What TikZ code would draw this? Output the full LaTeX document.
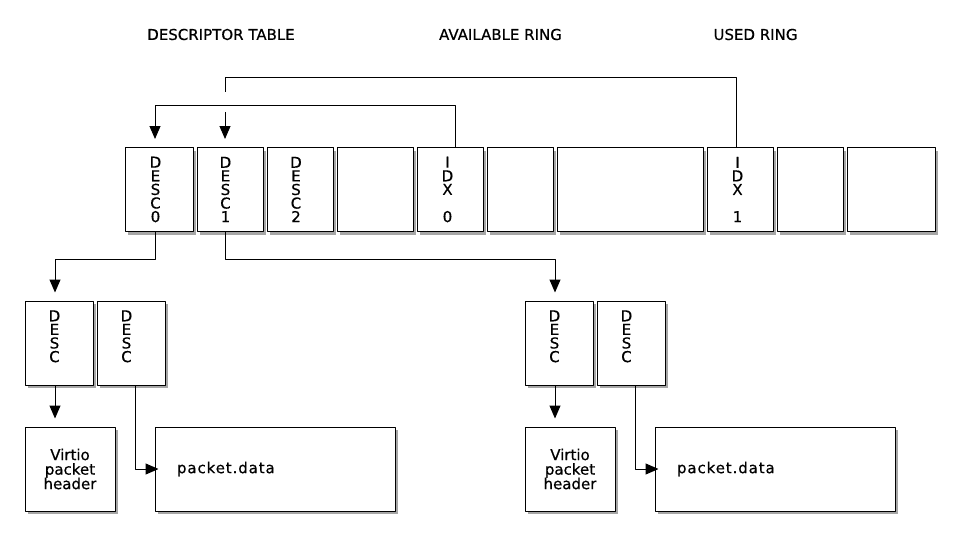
\documentclass[tikz,border=0pt]{standalone}
\usepackage{fontspec}
\setmainfont{DejaVu Sans}
\newfontfamily\ditaafont[FakeBold=0.5]{DejaVu Sans}
\usetikzlibrary{arrows.meta,shadows}

\newcommand\boxfont{\ditaafont\fontsize{15}{13.6}\selectfont\lineskiplimit-15pt\relax}
\newcommand\tightlines{\ditaafont\fontsize{15}{14.5}\selectfont\lineskiplimit-15pt\relax}
\newcommand\widefont{\ditaafont\fontsize{15}{13.6}\selectfont\addfontfeature{LetterSpace=6}}

\tikzset{
  cell/.style={draw, fill=white, line width=1pt, inner sep=0pt, minimum height=84pt, align=center,
    drop shadow={shadow xshift=3pt, shadow yshift=-3pt, fill=black, opacity=0.35}},
  letters/.style={align=center, inner sep=0pt, xshift=#1},
  tight/.style={font=\tightlines},
  datacell/.style={cell, font=\widefont, text width=196pt, inner xsep=22pt, align=left},
  link/.style={line width=1pt},
  arrdown/.style={link, ->, shorten >=8pt},
  arrin/.style={link, ->, shorten >=-4pt}
}

\begin{document}
\begin{tikzpicture}[line join=round, >={Triangle[length=13pt,width=11pt]}, x=1pt, y=-1pt,
    font=\boxfont]
  \useasboundingbox (0,0) rectangle (960,546);

  \node (hdesc)  at (221,34.5) {DESCRIPTOR TABLE};
  \node (havail) at (500.5,34.5) {AVAILABLE RING};
  \node (hused)  at (755.5,34.5) {USED RING};

  \foreach \n/\x/\w/\o/\txt in {d0/159/68/-3.5/{D\\E\\S\\C\\0}, d1/230/66/-4.5/{D\\E\\S\\C\\1},
      d2/300/66/-4/{D\\E\\S\\C\\2}, e1/375/76/0/{}, idx0/450/66/-2.5/{I\\D\\X\\\mbox{}\\0},
      e2/520/66/0/{}, e3/630/146/0/{}, idx1/740/66/-2.5/{I\\D\\X\\\mbox{}\\1},
      e4/810/66/0/{}, e5/891/88/0/{}}
    \node[cell, minimum width=\w pt, label={[letters=\o pt, name=\n t]center:\txt}] (\n) at (\x,189.5) {};

  \foreach \n/\x in {c0a/59, c0b/131, c1a/559, c1b/631}
    \node[cell, minimum width=68pt, label={[letters=-4.5pt, name=\n t]center:D\\E\\S\\C\\\mbox{}}] (\n) at (\x,343) {};

  \node[cell, tight, minimum width=90pt] (h0) at (70,469) {Virtio\\packet\\header};
  \node[cell, tight, minimum width=90pt] (h1) at (570,469) {Virtio\\packet\\header};
  \node[datacell] (p0) at (275,469) {packet.data};
  \node[datacell] (p1) at (775,469) {packet.data};

  \coordinate (k0) at (155,105);
  \coordinate (k1) at (225,77);
  \coordinate (k2) at (225,92);
  \coordinate (k3) at (225,112);
  \coordinate (k4) at (55,259);
  \coordinate (k5) at (555,259);

  \draw[arrdown] ([xshift=5pt]idx0.north) |- (k0) -- (k0 |- d0.north);
  \draw[link] ([xshift=-4pt]idx1.north) |- (k1) -- (k2);
  \draw[arrdown] (k3) -- (k3 |- d1.north);

  \draw[arrdown] (d0.south -| k0) |- (k4) -- (k4 |- c0a.north);
  \draw[arrdown] (d1.south -| k3) |- (k5) -- (k5 |- c1a.north);
  \draw[arrdown] (c0a.south -| k4) -- (k4 |- h0.north);
  \draw[arrdown] (c1a.south -| k5) -- (k5 |- h1.north);
  \draw[arrin] ([xshift=4pt]c0b.south) |- (p0.west);
  \draw[arrin] ([xshift=4pt]c1b.south) |- (p1.west);

\end{tikzpicture}
\end{document}
